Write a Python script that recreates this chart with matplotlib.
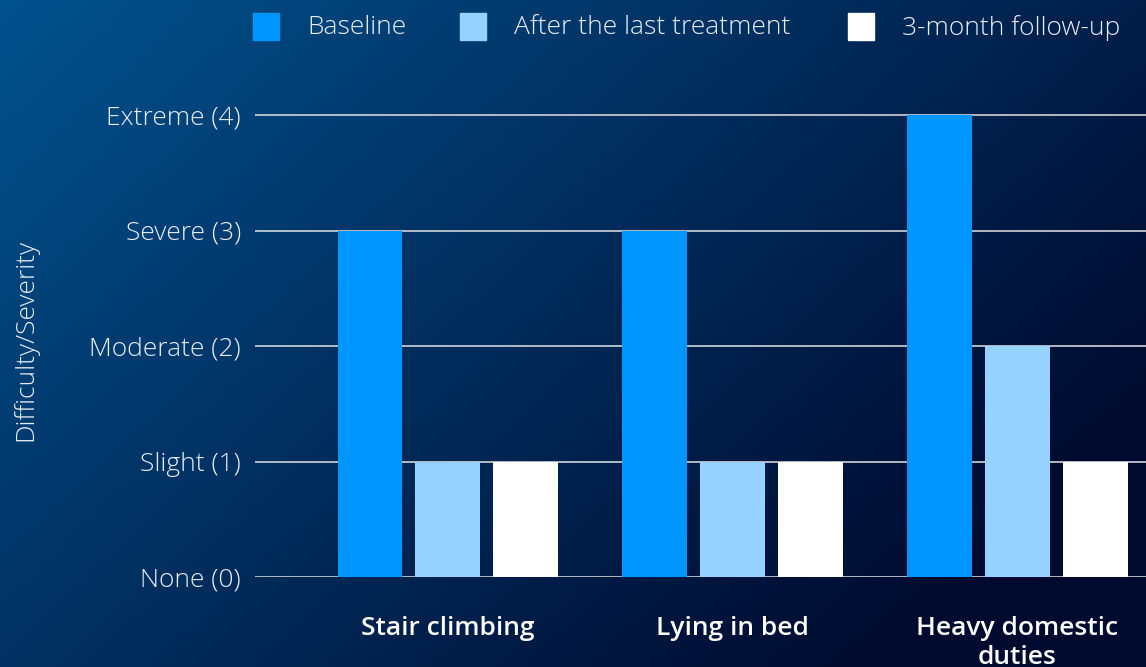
import numpy as np
import matplotlib
matplotlib.use("Agg")
import matplotlib.pyplot as plt
from matplotlib.patches import Rectangle

# data
categories = ["Stair climbing", "Lying in bed", "Heavy domestic\nduties"]
series = ["Baseline", "After the last treatment", "3-month follow-up"]
baseline = [3, 3, 4]
after_treatment = [1, 1, 2]
follow_up = [1, 1, 1]
tick_labels = ["None (0)", "Slight (1)", "Moderate (2)", "Severe (3)", "Extreme (4)"]
colors = ["#0096ff", "#96d2ff", "#ffffff"]

plt.rcParams['font.family'] = ['Open Sans', 'DejaVu Sans']

W, H = 1146, 667
FS = 19
fig = plt.figure(figsize=(W / 100, H / 100), dpi=100)

# gradient background
bg = fig.add_axes([0, 0, 1, 1], zorder=-10)
gx, gy = np.meshgrid(np.linspace(0, 1, 300), np.linspace(0, 1, 200))
t = np.clip(0.72 * gx + 0.45 * gy, 0, 1)[..., None]
c0 = np.array([2, 82, 142]) / 255
c1 = np.array([0, 10, 46]) / 255
img = c0 * (1 - t) + c1 * t
bg.imshow(img, aspect='auto', extent=[0, 1, 0, 1], origin='upper')
bg.axis('off')

ax = fig.add_axes([255 / W, 90 / H, 1 - 255 / W, 485.1 / H])
ax.patch.set_alpha(0)

x = np.arange(len(categories))
width = 0.228
step = 0.274
for i, (vals, col) in enumerate(zip([baseline, after_treatment, follow_up], colors)):
    ax.bar(x + (i - 1) * step, vals, width, color=col, zorder=3)

ax.set_xlim(-0.678, 2.453)
ax.set_ylim(0, 4.2)
ax.set_yticks(range(5))
ax.set_yticklabels(tick_labels, color='#e8eef5', fontsize=FS, fontweight='light')
for lab in ax.get_yticklabels():
    lab.set_va('center_baseline')
ax.set_xticks(x)
ax.set_xticklabels(categories, color='white', fontsize=FS, fontweight='semibold',
                   linespacing=1.22, va='top')
ax.tick_params(axis='x', length=0, pad=28)
ax.tick_params(axis='y', length=0, pad=10)
ax.grid(axis='y', color='#d0d4da', linewidth=1.2, zorder=0)
for s in ax.spines.values():
    s.set_visible(False)

fig.text(25 / W, 1 - 340 / H, "Difficulty/Severity", rotation=90, color='#e8eef5',
         fontsize=FS, fontweight='light', ha='center', va='center')

# legend
leg_x = [253, 460, 848]
for name, col, lx in zip(series, colors, leg_x):
    fig.patches.append(Rectangle((lx / W, 1 - 40 / H), 26 / W, 27 / H, color=col,
                                 transform=fig.transFigure, figure=fig))
    fig.text((lx + 54) / W, 1 - 28 / H, name, color='#e8eef5', fontsize=FS,
             fontweight='light', ha='left', va='center')

fig.savefig("out.png", dpi=100)
